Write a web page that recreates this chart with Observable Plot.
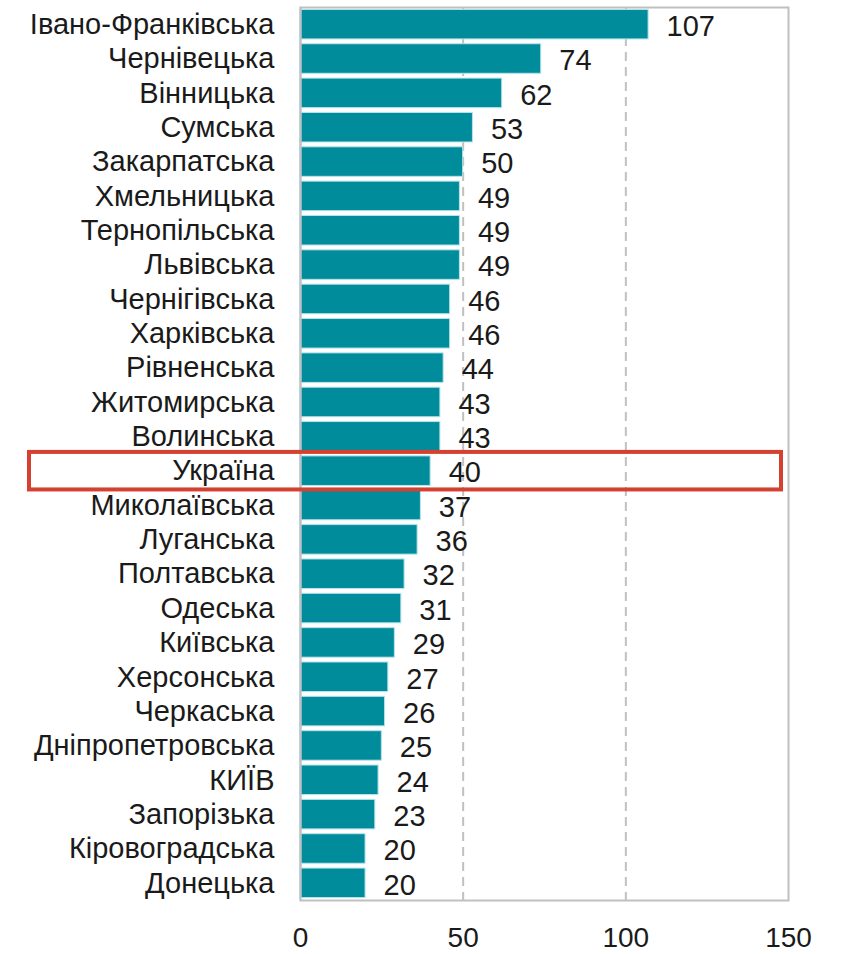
<!DOCTYPE html>
<html>
<head>
<meta charset="utf-8">
<script src="https://cdn.jsdelivr.net/npm/d3@7"></script>
<script src="https://cdn.jsdelivr.net/npm/@observablehq/plot@0.6"></script>
<style>
  html, body { margin: 0; padding: 0; background: #fff; }
  #chart svg { display: block; }
</style>
</head>
<body>
<div id="chart"></div>
<script>
const regions = ["Івано-Франківська","Чернівецька","Вінницька","Сумська","Закарпатська","Хмельницька","Тернопільська","Львівська","Чернігівська","Харківська","Рівненська","Житомирська","Волинська","Україна","Миколаївська","Луганська","Полтавська","Одеська","Київська","Херсонська","Черкаська","Дніпропетровська","КИЇВ","Запорізька","Кіровоградська","Донецька"];
const values = [107,74,62,53,50,49,49,49,46,46,44,43,43,40,37,36,32,31,29,27,26,25,24,23,20,20];
const xTicks = [0,50,100,150];
const gridValues = [50,100];
const highlight = "Україна";

const data = regions.map((r, i) => ({region: r, value: values[i]}));

const plot = Plot.plot({
  width: 841,
  height: 954,
  marginLeft: 300,
  marginRight: 53,
  marginTop: 7,
  marginBottom: 54,
  style: {fontFamily: "'Liberation Sans', Arial, sans-serif", fontSize: "28px", color: "#1a1a1a", background: "#fff"},
  x: {domain: [0,150], ticks: xTicks, tickSize: 0, tickPadding: 27, label: null},
  y: {domain: regions, paddingInner: 0.14, paddingOuter: 0.07, round: false, tickSize: 0, tickPadding: 26, label: null},
  marks: [
    Plot.ruleX(gridValues, {stroke: "#c0c0c0", strokeWidth: 2, strokeDasharray: "9,6"}),
    Plot.barX(data, {x: "value", y: "region", fill: "#008c9b", stroke: "#b8e4ea", strokeWidth: 1}),
    Plot.text(data, {x: "value", y: "region", text: d => String(d.value), textAnchor: "start", dx: 18, dy: 2, fontSize: 29, fill: "#1a1a1a"}),
    Plot.ruleX([0], {stroke: "#a9cfe6", strokeWidth: 2}),
    Plot.frame({stroke: "#c0c0c0", strokeWidth: 2})
  ]
});

document.getElementById("chart").appendChild(plot);

// slightly larger category labels
d3.select(plot).selectAll('g[aria-label^="y-axis"]').attr("font-size", 29).style("font-size", "29px");

// highlight rectangle around the Ukraine row, placed via the y scale
const ys = plot.scale("y");
const y0 = ys.apply(highlight);
const bw = ys.bandwidth;
d3.select(plot).append("rect")
  .attr("x", 29)
  .attr("y", y0 - 4)
  .attr("width", 841 - 29 - 60)
  .attr("height", bw + 8)
  .attr("fill", "none")
  .attr("stroke", "#d44131")
  .attr("stroke-width", 4);
</script>
</body>
</html>
